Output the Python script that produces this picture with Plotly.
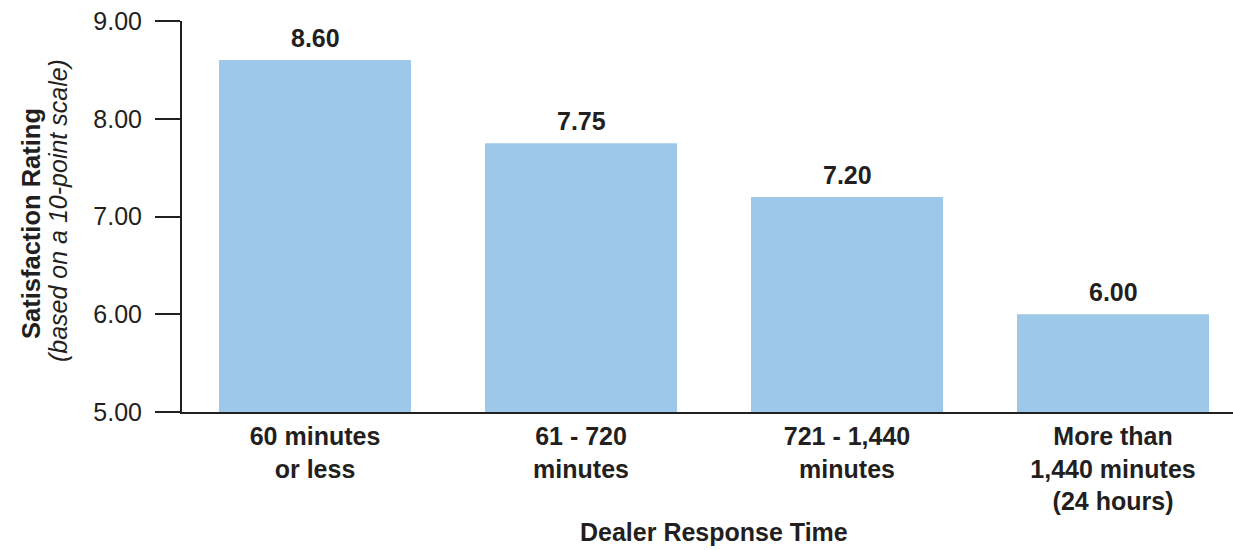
import plotly.graph_objects as go

categories = ["60 minutes<br>or less", "61 - 720<br>minutes", "721 - 1,440<br>minutes",
              "More than<br>1,440 minutes<br>(24 hours)"]
values = [8.60, 7.75, 7.20, 6.00]
y_ticks = [5, 6, 7, 8, 9]
y_tick_text = ["5.00", "6.00", "7.00", "8.00", "9.00"]

TXT = "#231F20"
BAR = "#9DC8EA"
FONT = "Liberation Sans, Arial, sans-serif"

fig = go.Figure()
fig.add_trace(go.Bar(
    x=categories, y=values, marker=dict(color=BAR, line=dict(width=0)),
    width=0.722, hoverinfo="skip",
))

for c, v in zip(categories, values):
    fig.add_annotation(x=c, y=v, xref="x", yref="y", text="<b>%.2f</b>" % v,
                       showarrow=False, yanchor="bottom", yshift=6,
                       font=dict(size=25, color=TXT, family=FONT))

# y-axis title (two lines)
fig.add_annotation(xref="paper", yref="paper", x=0, y=0.481, xshift=-151,
                   text="<b>Satisfaction Rating</b>", textangle=-90, showarrow=False,
                   xanchor="center", yanchor="middle",
                   font=dict(size=25.5, color=TXT, family=FONT))
fig.add_annotation(xref="paper", yref="paper", x=0, y=0.514, xshift=-124,
                   text="<i>(based on a 10-point scale)</i>", textangle=-90, showarrow=False,
                   xanchor="center", yanchor="middle",
                   font=dict(size=25, color=TXT, family=FONT))
# x-axis title
fig.add_annotation(xref="x", yref="paper", x=1.5, y=-0.307,
                   text="<b>Dealer Response Time</b>", showarrow=False,
                   xanchor="center", yanchor="middle",
                   font=dict(size=25, color=TXT, family=FONT))

fig.update_layout(
    width=1233, height=550,
    margin=dict(l=182, r=0, t=21, b=138),
    paper_bgcolor="white", plot_bgcolor="white",
    showlegend=False,
    font=dict(family=FONT, color=TXT, size=25),
    xaxis=dict(
        range=[-0.5, 3.451], showgrid=False, zeroline=False,
        showline=True, linecolor=TXT, linewidth=2,
        ticks="", tickfont=dict(size=25, color=TXT, family=FONT, weight="bold"),
        ticklabelstandoff=1,
    ),
    yaxis=dict(
        range=[5, 9], showgrid=False, zeroline=False,
        showline=True, linecolor=TXT, linewidth=2,
        tickvals=y_ticks, ticktext=y_tick_text,
        ticks="outside", ticklen=25, tickwidth=2, tickcolor=TXT,
        tickfont=dict(size=25, color=TXT, family=FONT),
        ticklabelstandoff=8,
    ),
)

fig.write_html("out.html")
